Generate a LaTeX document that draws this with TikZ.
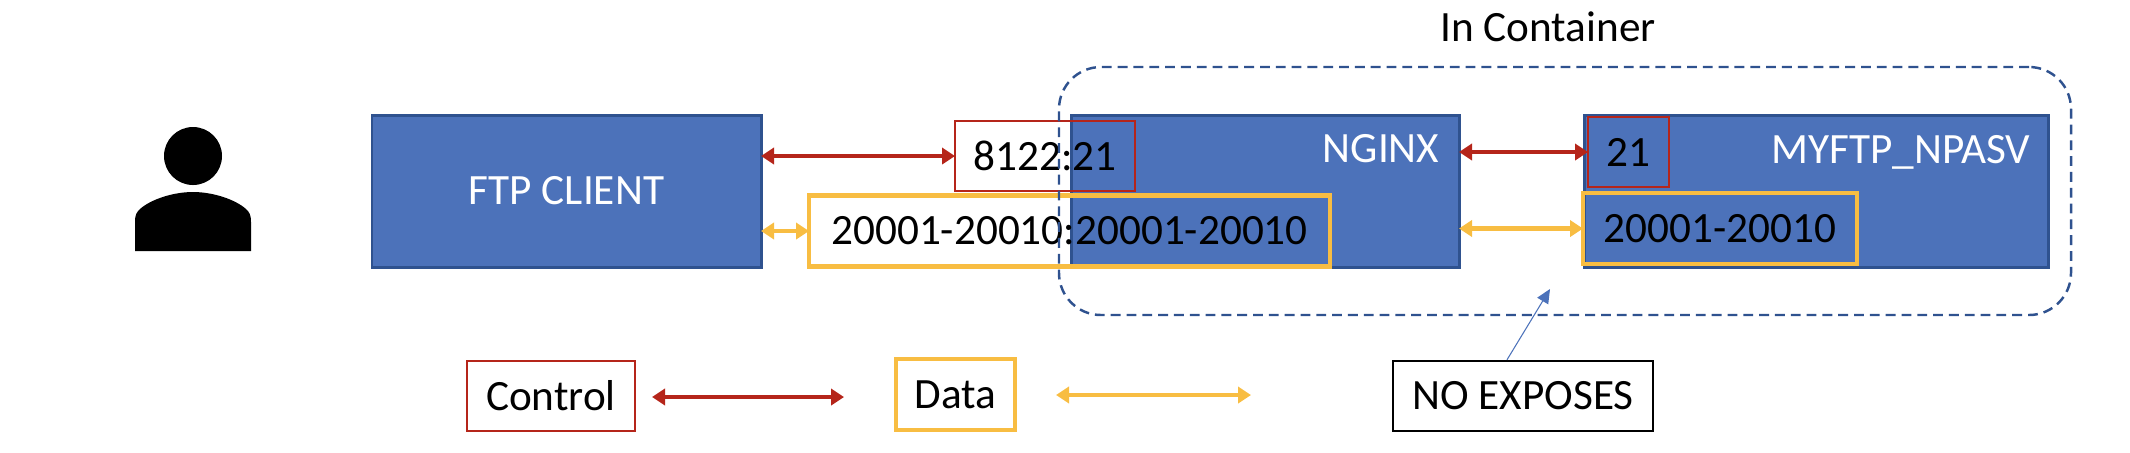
\documentclass[tikz,border=0pt]{standalone}
\usepackage{fontspec}
\setmainfont{Carlito}
\usetikzlibrary{arrows.meta,positioning,shapes.geometric}
\definecolor{panelblue}{HTML}{4C72BA}
\definecolor{paneledge}{HTML}{2F528F}
\definecolor{ctrlred}{HTML}{B5251A}
\definecolor{datayellow}{HTML}{F8BD42}
\tikzset{label text/.style={font=\fontsize{12.3}{14}\selectfont,inner sep=0pt},
panel/.style={draw=paneledge,fill=panelblue,line width=.85pt,minimum height=1.52cm,outer sep=0pt,anchor=north west,label text,text=white},
portred/.style={draw=ctrlred,line width=.7pt,minimum height=.70cm,outer sep=0pt,label text},
portyellow/.style={draw=datayellow,line width=1.3pt,minimum height=.71cm,outer sep=0pt,label text},
ctrlflow/.style={{Triangle[length=3.7pt,width=4.6pt]}-{Triangle[length=3.7pt,width=4.6pt]},line width=1.4pt,draw=ctrlred},
dataflow/.style={{Triangle[length=3.7pt,width=4.6pt]}-{Triangle[length=3.7pt,width=4.6pt]},line width=1.4pt,draw=datayellow}}
\begin{document}
\begin{tikzpicture}
\useasboundingbox (0,0) rectangle (21.3,-4.52);
% user
\node[ellipse,fill=black,minimum width=.58cm,minimum height=.58cm,inner sep=0pt] (head) at (1.93,-1.56) {};
\fill (1.35,-2.51) -- (1.35,-2.22) .. controls (1.35,-2.14) and (1.37,-2.12) .. (1.40,-2.09) .. controls (1.50,-2.00) and (1.72,-1.92) .. (1.93,-1.92) .. controls (2.14,-1.92) and (2.36,-2.00) .. (2.46,-2.09) .. controls (2.49,-2.12) and (2.51,-2.14) .. (2.51,-2.22) -- (2.51,-2.51) -- cycle;
% panels
\node[panel,minimum width=3.89cm] (client) at (3.72,-1.15) {FTP CLIENT};
\node[panel,minimum width=3.88cm] (nginx) at (10.71,-1.15) {};
\node[panel,minimum width=4.64cm] (myftp) at (15.84,-1.15) {};
\node[label text,text=white,anchor=base east] (nginxname) at (14.40,-1.62) {NGINX};
\node[label text,text=white,anchor=base east] (myftpname) at (20.31,-1.63) {MYFTP\_NPASV};
% ports
\node[portred,minimum width=1.80cm] (hostctrl) at (10.45,-1.56) {8122:21};
\node[portyellow,minimum width=5.21cm] (hostdata) at (10.695,-2.31) {20001-20010:20001-20010};
\node[portred,minimum width=.81cm] (innerctrl) at (16.285,-1.52) {21};
\node[portyellow,minimum width=2.74cm] (innerdata) at (17.20,-2.285) {20001-20010};
% container
\node[draw=paneledge,line width=.7pt,dash pattern=on 2.8pt off 1.7pt,rounded corners=.42cm,minimum width=10.12cm,minimum height=2.48cm,outer sep=0pt] (box) at (15.65,-1.91) {};
\node[label text] (boxname) at (15.48,-.27) {In Container};
% legend
\node[portred,minimum width=1.68cm] (ctrlkey) at (5.51,-3.96) {Control};
\node[portyellow,minimum width=1.19cm] (datakey) at (9.555,-3.945) {Data};
\node[label text,draw=black,line width=.7pt,minimum width=2.60cm,minimum height=.70cm] (expose) at (15.23,-3.96) {NO EXPOSES};
\coordinate (ctrla) at (6.52,-3.97);
\coordinate (ctrlb) at (8.44,-3.97);
\coordinate (dataa) at (10.56,-3.95);
\coordinate (datab) at (12.51,-3.95);
\coordinate (tip) at (15.50,-2.89);
\draw[ctrlflow] (ctrla)--(ctrlb);
\draw[dataflow] (dataa)--(datab);
\draw[ctrlflow] (client.east|-hostctrl)--(hostctrl.west);
\draw[dataflow] (client.east|-hostdata)--(hostdata.west);
\draw[ctrlflow] (nginx.east|-innerctrl)--(innerctrl.west);
\draw[dataflow] (nginx.east|-innerdata)--(innerdata.west);
\draw[-{Triangle[length=4pt,width=3.6pt]},line width=.3pt,draw=panelblue] (expose.north-|15.07,0)--(tip);
\end{tikzpicture}
\end{document}
